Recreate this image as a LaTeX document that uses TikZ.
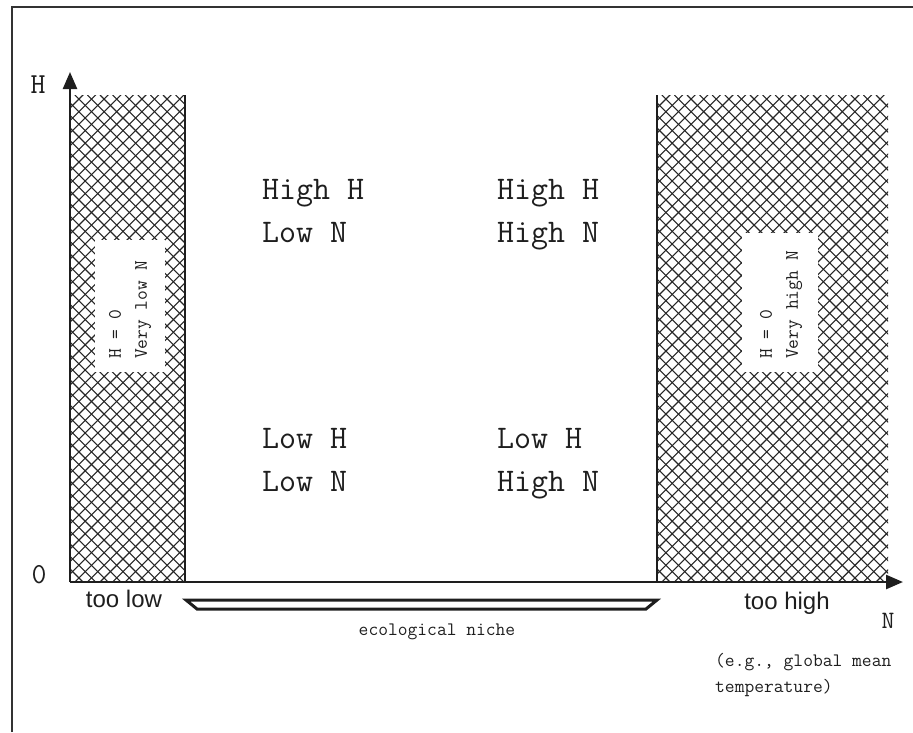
\documentclass[tikz,border=0pt]{standalone}
\usepackage{fontspec}
\setsansfont{Liberation Sans}
\usetikzlibrary{arrows.meta}
\definecolor{ink}{HTML}{1E1E1E}
\definecolor{hatch}{HTML}{262626}
\definecolor{frame}{HTML}{333333}
\tikzset{
  hatchline/.style={line width=1.1pt, hatch},
  hole/.style={fill=white, draw=none},
  wall/.style={line width=2.5pt, ink},
  axis/.style={-{Triangle[length=17pt,width=14pt]}, line width=2.5pt, ink},
  quad/.style={font=\ttfamily\fontsize{33}{43}\selectfont, align=left, anchor=base west, inner sep=0pt, text=ink},
  note/.style={font=\ttfamily\fontsize{19}{26}\selectfont, inner sep=0pt, text=ink},
  tag/.style={font=\sffamily\fontsize{24}{28}\selectfont, anchor=base, inner sep=0pt, text=ink},
  axislbl/.style={font=\ttfamily\fontsize{29}{36}\selectfont, anchor=base, inner sep=0pt, text=ink}
}
\begin{document}
\begin{tikzpicture}[x=1pt, y=-1pt]
\useasboundingbox (0,0) rectangle (913,732);
\draw[line width=1.5pt, frame] (12,732) -- (12,7) -- (913,7);
% hatched zones
\foreach \a/\b in {70/185, 657/888} {
  \begin{scope}
    \clip (\a,95) rectangle (\b,582);
    \foreach \k in {0,...,68} {
      \draw[hatchline] ({\a-600+12.6*\k},582) -- ++(600,-600);
      \draw[hatchline] ({\a-600+12.6*\k},95) -- ++(600,600);
    }
  \end{scope}
}
\fill[hole] (95,240) rectangle (165,372);
\fill[hole] (742,233) rectangle (818,372);
\draw[wall] (185,95) -- (185,582);
\draw[wall] (657,95) -- (657,582);
% axes
\coordinate (O) at (70,582);
\coordinate (Htip) at (70,72);
\coordinate (Ntip) at (903,582);
\draw[axis] (O) -- (Htip);
\draw[axis] (O) -- (Ntip);
\node[axislbl] (hlbl) at (38,93) {H};
\node[axislbl] (zero) at (39,583) {0};
\node[axislbl, font=\ttfamily\fontsize{25}{30}\selectfont] (nlbl) at (888,628) {N};
% quadrants
\node[quad] (hl) at (262,242) {High H\\Low N};
\node[quad] (hh) at (497,242) {High H\\High N};
\node[quad] (ll) at (262,491) {Low H\\Low N};
\node[quad] (lh) at (497,491) {Low H\\High N};
\node[note, rotate=90, align=left] (lowz) at (130,310) {H = 0\\Very low N};
\node[note, rotate=90, align=left] (highz) at (781,305) {H = 0\\Very high N};
% niche
\node[tag] (toolow) at (124,607) {too low};
\node[tag] (toohigh) at (787,609) {too high};
\draw[line width=3pt, ink] (186,600) -- (657,600) -- (646,609) -- (197,609) -- cycle;
\node[note] (niche) at (437,632) {ecological niche};
\node[note, align=left, anchor=north west] (eg) at (715,653) {(e.g., global mean\\temperature)};
\end{tikzpicture}
\end{document}
